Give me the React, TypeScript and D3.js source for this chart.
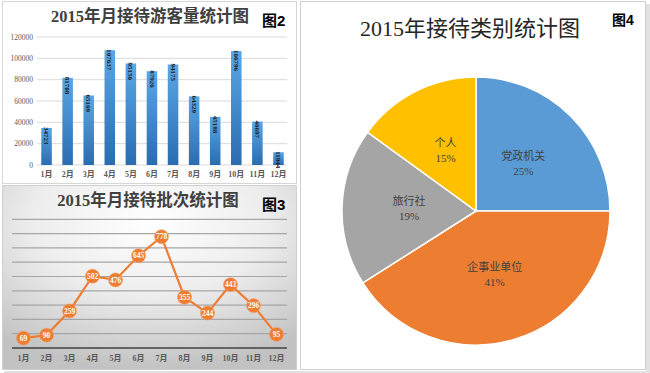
import React from "react";
import * as d3 from "d3";

const months = ["1月", "2月", "3月", "4月", "5月", "6月", "7月", "8月", "9月", "10月", "11月", "12月"];
const visitors = [34723, 81708, 65169, 107637, 95150, 87926, 94175, 64329, 45188, 106796, 40697, 11944];
const visitorTicks = [0, 20000, 40000, 60000, 80000, 100000, 120000];
const batches = [69, 90, 259, 502, 476, 645, 778, 355, 244, 443, 296, 95];
const batchGrid = [100, 200, 300, 400, 500, 600, 700, 800, 900];
const categories = ["党政机关", "企事业单位", "旅行社", "个人"];
const shares = [25, 41, 19, 15];
const pieColors = ["#5B9BD5", "#ED7D31", "#A5A5A5", "#FFC000"];

const SERIF = "'Liberation Serif', 'DejaVu Serif', 'Noto Sans CJK SC', serif";
const SANS = "'Liberation Sans', 'Noto Sans CJK SC', sans-serif";

export default function App() {
  // Bar chart (图2)
  const xb = d3.scaleBand<string>().domain(months).range([36, 289]).paddingInner(0.5).paddingOuter(0.25);
  const yb = d3.scaleLinear().domain([0, 120000]).range([165, 37]);

  // Line chart (图3)
  const xl = d3.scalePoint<string>().domain(months).range([12, 288]).padding(0.5);
  const yl = d3.scaleLinear().domain([0, 900]).range([348, 219.3]);
  const lineGen = d3.line<number>().x((_, i) => xl(months[i])!).y((d) => yl(d));

  // Pie (图4)
  const cx = 476, cy = 211, R = 134;
  const pie = d3.pie<number>().sort(null).value((d) => d)(shares);
  const arc = d3.arc<d3.PieArcDatum<number>>().innerRadius(0).outerRadius(R);
  const total = d3.sum(shares);

  return (
    <svg width={650} height={373} style={{ position: "absolute", left: 0, top: 0 }}>
      <defs>
        <linearGradient id="barGrad" x1="0" y1="0" x2="0" y2="1">
          <stop offset="0%" stopColor="#5AA7E6" />
          <stop offset="100%" stopColor="#2A6CB0" />
        </linearGradient>
        <radialGradient id="bgGrad" cx="50%" cy="20%" r="80%">
          <stop offset="0%" stopColor="#ffffff" />
          <stop offset="50%" stopColor="#ededed" />
          <stop offset="100%" stopColor="#c2c2c2" />
        </radialGradient>
      </defs>
      <rect x={0} y={0} width={650} height={373} fill="#ffffff" />
      {/* shadows */}
      <rect x={646} y={4} width={4} height={369} fill="#e2e2e2" />
      <rect x={4} y={371} width={646} height={2} fill="#e2e2e2" />

      {/* Panel 2 */}
      <rect x={2.5} y={1.5} width={294} height={182} fill="#fff" stroke="#d6d6d6" />
      <text x={150} y={22} textAnchor="middle" fontFamily={SERIF} fontSize={16.5} fontWeight={700} fill="#404040">2015年月接待游客量统计图</text>
      <text x={262} y={26} fontFamily={SANS} fontSize={15} fontWeight={700} fill="#000">图2</text>
      {visitorTicks.map((t) => (
        <g key={t}>
          <line x1={37} x2={287} y1={yb(t)} y2={yb(t)} stroke="#d9d9d9" strokeWidth={1} />
          <text x={33} y={yb(t)} dy="0.35em" textAnchor="end" fontFamily={SERIF} fontSize={7.5} fill="#595959">{t}</text>
        </g>
      ))}
      {visitors.map((v, i) => (
        <g key={months[i]}>
          <rect x={xb(months[i])} y={yb(v)} width={xb.bandwidth()} height={yb(0) - yb(v)} fill="url(#barGrad)" />
          <text transform={`translate(${xb(months[i])! + xb.bandwidth() / 2},${yb(v) - 1}) rotate(90)`} dy="0.35em" fontFamily={SERIF} fontSize={7} fontWeight={700} fill="#1a1a1a">{v}</text>
          <text x={xb(months[i])! + xb.bandwidth() / 2} y={177} textAnchor="middle" fontFamily={SERIF} fontSize={8} fontWeight={700} fill="#595959">{months[i]}</text>
        </g>
      ))}

      {/* Panel 3 */}
      <rect x={2.5} y={185.5} width={294} height={184} fill="url(#bgGrad)" stroke="#d0d0d0" />
      <text x={148} y={206} textAnchor="middle" fontFamily={SERIF} fontSize={16.5} fontWeight={700} fill="#404040">2015年月接待批次统计图</text>
      <text x={262} y={210} fontFamily={SANS} fontSize={15} fontWeight={700} fill="#000">图3</text>
      {batchGrid.map((t) => (
        <line key={t} x1={12} x2={287} y1={yl(t)} y2={yl(t)} stroke="#a6a6a6" strokeWidth={1.2} />
      ))}
      <line x1={12} x2={287} y1={yl(0)} y2={yl(0)} stroke="#404040" strokeWidth={1.6} />
      {months.map((m) => (
        <text key={m} x={xl(m)} y={361} textAnchor="middle" fontFamily={SERIF} fontSize={8} fontWeight={700} fill="#595959">{m}</text>
      ))}
      <path d={lineGen(batches)!} fill="none" stroke="#ED7D31" strokeWidth={2.2} />
      {batches.map((v, i) => (
        <g key={i}>
          <circle cx={xl(months[i])} cy={yl(v)} r={7} fill="#ED7D31" stroke="#F4A06A" strokeWidth={0.6} />
          <text x={xl(months[i])} y={yl(v)} dy="0.35em" textAnchor="middle" fontFamily={SERIF} fontSize={7.5} fontWeight={700} fill="#fff">{v}</text>
        </g>
      ))}

      {/* Panel 4 */}
      <rect x={300.5} y={1.5} width={345} height={368} fill="#fff" stroke="#d0d0d0" />
      <text x={470} y={36} textAnchor="middle" fontFamily={SERIF} fontSize={22} fill="#262626">2015年接待类别统计图</text>
      <text x={612} y={25} fontFamily={SANS} fontSize={14} fontWeight={700} fill="#000">图4</text>
      <g transform={`translate(${cx},${cy})`}>
        {pie.map((p, i) => (
          <path key={categories[i]} d={arc(p)!} fill={pieColors[i]} stroke="#fff" strokeWidth={1.5} />
        ))}
        {pie.map((p, i) => {
          const [lx, ly] = arc.centroid(p);
          return (
            <g key={"l" + i} fontFamily={SERIF} fontSize={11} fill="#404040" textAnchor="middle">
              <text x={lx} y={ly - 4}>{categories[i]}</text>
              <text x={lx} y={ly + 11}>{Math.round((shares[i] / total) * 100)}%</text>
            </g>
          );
        })}
      </g>
    </svg>
  );
}
